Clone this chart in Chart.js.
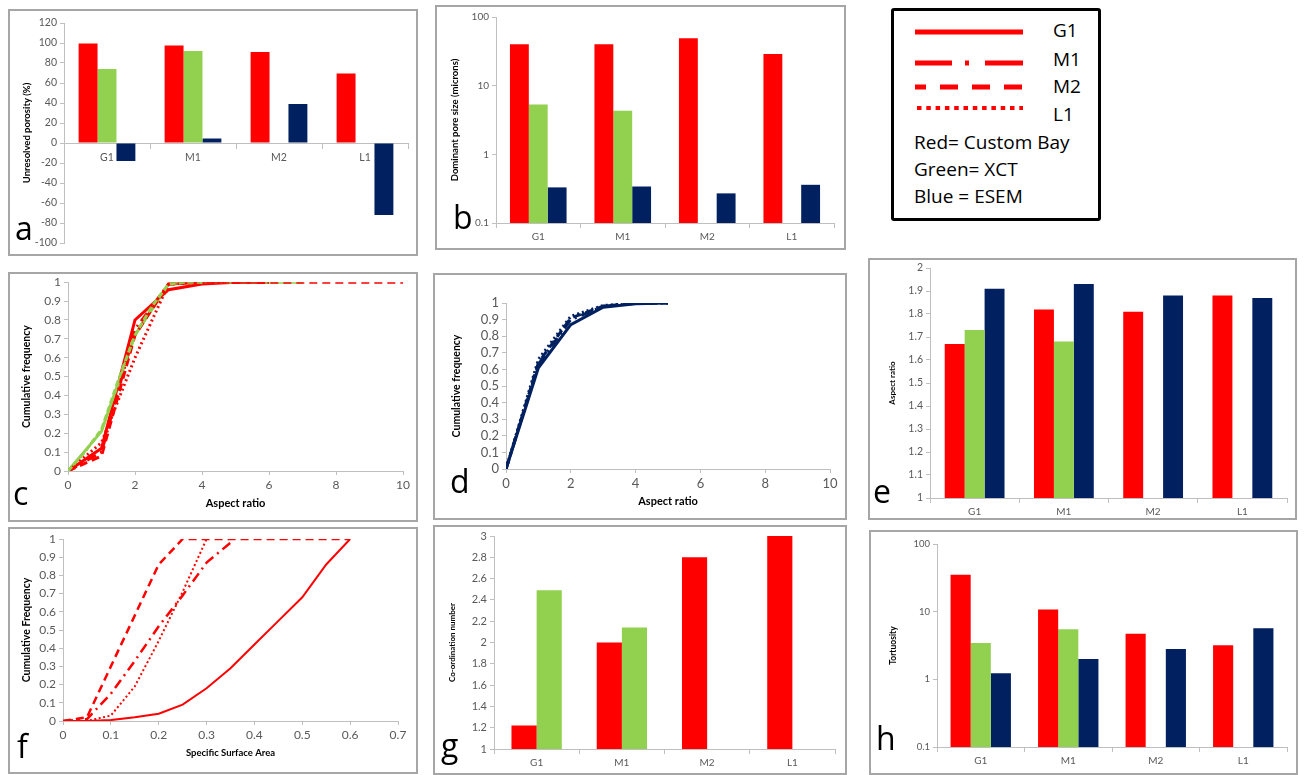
<!DOCTYPE html>
<html>
<head>
<meta charset="utf-8">
<script src="https://cdn.jsdelivr.net/npm/chart.js@4.4.1/dist/chart.umd.min.js"></script>
<style>
  body { margin: 0; width: 1306px; height: 775px; background: #fff; position: relative; overflow: hidden; }
  canvas { position: absolute; }
  .box { position: absolute; border: 2px solid #a6a6a6; box-sizing: border-box; pointer-events: none; }
  .letter { position: absolute; font-family: "Open Sans", sans-serif; font-size: 32px; line-height: 32px; color: #000; }
  .legend { position: absolute; left: 891px; top: 8px; width: 210px; height: 213px; border: 3px solid #000; border-radius: 3px; box-sizing: border-box; }
  .lt { position: absolute; font-family: "Open Sans", sans-serif; font-size: 19px; line-height: 19px; color: #000; white-space: nowrap; }
</style>
</head>
<body>
<canvas id="chart-a"></canvas>
<canvas id="chart-b"></canvas>
<canvas id="chart-c"></canvas>
<canvas id="chart-d"></canvas>
<canvas id="chart-e"></canvas>
<canvas id="chart-f"></canvas>
<canvas id="chart-g"></canvas>
<canvas id="chart-h"></canvas>

<div class="box" style="left:8px;top:9px;width:410px;height:247px"></div>
<div class="box" style="left:435px;top:5px;width:411px;height:245px"></div>
<div class="box" style="left:8px;top:272px;width:410px;height:250px"></div>
<div class="box" style="left:433px;top:273px;width:414px;height:247px"></div>
<div class="box" style="left:868px;top:258px;width:429px;height:262px"></div>
<div class="box" style="left:8px;top:527px;width:410px;height:247px"></div>
<div class="box" style="left:433px;top:525px;width:414px;height:250px"></div>
<div class="box" style="left:869px;top:530px;width:429px;height:245px"></div>

<div class="letter" style="left:15px;top:212px">a</div>
<div class="letter" style="left:453px;top:201px">b</div>
<div class="letter" style="left:13px;top:477px">c</div>
<div class="letter" style="left:450px;top:465px">d</div>
<div class="letter" style="left:873px;top:475px">e</div>
<div class="letter" style="left:17px;top:730px">f</div>
<div class="letter" style="left:441px;top:729px">g</div>
<div class="letter" style="left:876px;top:722px">h</div>

<div class="legend"></div>
<svg style="position:absolute;left:891px;top:8px" width="210" height="213">
  <line x1="24" y1="24" x2="132" y2="24" stroke="#ff0000" stroke-width="5"/>
  <line x1="24" y1="55" x2="132" y2="55" stroke="#ff0000" stroke-width="5" stroke-dasharray="37 13 4 16 38"/>
  <line x1="24" y1="79" x2="132" y2="79" stroke="#ff0000" stroke-width="5" stroke-dasharray="18 14" stroke-dashoffset="7"/>
  <line x1="26" y1="100" x2="132" y2="100" stroke="#ff0000" stroke-width="4" stroke-dasharray="4.5 4.8"/>
</svg>
<div class="lt" style="left:1053px;top:21px">G1</div>
<div class="lt" style="left:1053px;top:50px">M1</div>
<div class="lt" style="left:1053px;top:77px">M2</div>
<div class="lt" style="left:1053px;top:105px">L1</div>
<div class="lt" style="left:914px;top:133px">Red= Custom Bay</div>
<div class="lt" style="left:914px;top:160px">Green= XCT</div>
<div class="lt" style="left:914px;top:187px">Blue = ESEM</div>

<script>
// samples on every bar chart
const categories = ["G1", "M1", "M2", "L1"];

// a: unresolved porosity (%)
const porosityCustomBay = [99.5, 97.5, 91, 69.5];
const porosityXct = [74, 92, null, null];
const porosityEsem = [-18, 4.5, 39, -72];

// b: dominant pore size (microns), log axis
const poreCustomBay = [40, 40, 49, 29];
const poreXct = [5.3, 4.3, null, null];
const poreEsem = [0.33, 0.34, 0.27, 0.36];
const logTicks = [0.1, 1, 10, 100];

// c: cumulative frequency vs aspect ratio (custom bay + XCT)
const cAspect = [0, 1, 2, 3, 4, 5, 6, 7, 8, 9, 10];
const cG1 = [0, 0.12, 0.8, 0.96, 0.99, 1, 1];
const cM1 = [0, 0.1, 0.75, 0.99, 1, 1, 1];
const cM2 = [0, 0.08, 0.72, 0.99, 1, 1, 1, 1, 1, 1, 1];
const cL1 = [0, 0.15, 0.6, 0.99, 1, 1, 1];
const cXctG1 = [0, 0.21, 0.72, 0.99, 1, 1, 1, 1];
const cAspectHalf = [0, 0.5, 1, 1.5, 2, 2.5, 3, 3.5, 4];
const cXctM1 = [0, 0.1, 0.22, 0.48, 0.72, 0.87, 0.99, 1, 1];

// d: cumulative frequency vs aspect ratio (ESEM)
const dAspect = [0, 1, 2, 3, 4, 5];
const dG1 = [0, 0.61, 0.87, 0.975, 0.995, 1];
const dM1 = [0, 0.63, 0.9, 0.98, 0.998, 1];
const dM2 = [0, 0.64, 0.91, 0.98, 1, 1];
const dL1 = [0, 0.66, 0.92, 0.985, 1, 1];

// e: aspect ratio
const aspectCustomBay = [1.67, 1.82, 1.81, 1.88];
const aspectXct = [1.73, 1.68, null, null];
const aspectEsem = [1.91, 1.93, 1.88, 1.87];

// f: cumulative frequency vs specific surface area
const fSsa = [0, 0.05, 0.1, 0.15, 0.2, 0.25, 0.3, 0.35, 0.4, 0.45, 0.5, 0.55, 0.6];
const fG1 = [0, 0, 0.005, 0.02, 0.04, 0.09, 0.18, 0.29, 0.42, 0.55, 0.68, 0.86, 1];
const fM1 = [0, 0.01, 0.15, 0.33, 0.52, 0.69, 0.87, 0.98];
const fM2 = [0, 0.02, 0.3, 0.58, 0.86, 1, 1, 1, 1, 1, 1, 1, 1];
const fL1 = [0, 0, 0.03, 0.19, 0.44, 0.71, 1];

// g: co-ordination number
const coordCustomBay = [1.22, 2.0, 2.8, 3.0];
const coordXct = [2.49, 2.14, null, null];

// h: tortuosity, log axis
const tortCustomBay = [35, 10.8, 4.7, 3.2];
const tortXct = [3.45, 5.5, null, null];
const tortEsem = [1.23, 2.0, 2.8, 5.7];

const RED = "#ff0000";
const GREEN = "#92d050";
const BLUE = "#002060";
const AXIS = "#bfbfbf";
const TICK = "#595959";

const SOLID = [];
const DASH_DOT = [10, 5, 2, 5];
const DASHED = [8, 5];
const DOTTED = [2, 3];

Chart.defaults.font.family = "Lato, 'Open Sans', sans-serif";

const pts = (xs, ys) => ys.map((y, i) => ({ x: xs[i], y: y }));

// box = [left, top, width, height] of the framed panel, plot = [left, top, right, bottom]
function geometry(g) {
  const [bl, bt, bw, bh] = g.box;
  const [L, T, R, B] = g.plot;
  const padLeft = g.yTitleX - bl - (g.yTitleSize * 1.2) / 2;
  let padBottom = 0;
  if (g.xTitleY) padBottom = bt + bh - g.xTitleY - (g.xTitleSize * 1.2) / 2;
  if (g.xAtZero) padBottom = bt + bh - B;
  return {
    padding: { left: padLeft, top: T - bt, right: bl + bw - R, bottom: padBottom },
    yWidth: L - bl - padLeft,
    xHeight: bt + bh - B - padBottom,
  };
}

function axis(tickSize, extra) {
  return Object.assign({
    grid: { drawOnChartArea: false, color: AXIS, tickLength: 4 },
    border: { color: AXIS },
    ticks: { color: TICK, padding: 3, autoSkip: false, maxRotation: 0, font: { size: tickSize } },
  }, extra);
}

function title(text, size) {
  return { display: true, text: text, color: "#000", padding: 0, font: { size: size, weight: "bold" } };
}

function build(id, g, type, labels, datasets, xOpts, yOpts) {
  const geo = geometry(g);
  const cv = document.getElementById(id);
  cv.width = g.box[2];
  cv.height = g.box[3];
  cv.style.left = g.box[0] + "px";
  cv.style.top = g.box[1] + "px";
  xOpts.afterFit = (s) => { s.height = geo.xHeight; };
  yOpts.afterFit = (s) => { s.width = geo.yWidth; };
  return new Chart(cv, {
    type: type,
    data: { labels: labels, datasets: datasets },
    options: {
      responsive: false,
      animation: false,
      devicePixelRatio: 1,
      layout: { padding: geo.padding },
      plugins: { legend: { display: false }, tooltip: { enabled: false } },
      scales: { x: xOpts, y: yOpts },
    },
  });
}

function bars(data, color, pct) {
  return { data: data, backgroundColor: color, borderWidth: 0, barPercentage: 1, categoryPercentage: pct };
}

function line(xs, ys, color, dash, width) {
  return {
    data: pts(xs, ys), borderColor: color, borderDash: dash, borderWidth: width,
    pointRadius: 0, tension: 0, fill: false, borderCapStyle: "butt",
  };
}

const logY = (size, text, titleSize) => axis(size, {
  type: "logarithmic", min: 0.1, max: 100,
  afterBuildTicks: (s) => { s.ticks = logTicks.map((v) => ({ value: v })); },
  ticks: { color: TICK, padding: 3, autoSkip: false, font: { size: size }, callback: (v) => String(v) },
  title: title(text, titleSize),
});

const catX = (size) => axis(size, { grid: { drawOnChartArea: false, color: AXIS, tickLength: 5, offset: true } });
const fmt = (v) => String(+v.toFixed(2));

// a
build("chart-a",
  { box: [8, 9, 410, 247], plot: [64, 23, 408, 243], yTitleX: 27, yTitleSize: 9.5, xAtZero: true },
  "bar", categories,
  [bars(porosityCustomBay, RED, 0.66), bars(porosityXct, GREEN, 0.66), bars(porosityEsem, BLUE, 0.66)],
  Object.assign(catX(10.5), { position: { y: 0 } }),
  axis(10.5, { min: -100, max: 120, ticks: { color: TICK, padding: 3, autoSkip: false, stepSize: 20, font: { size: 10.5 } },
    title: title("Unresolved porosity (%)", 9.5) }));

// b
build("chart-b",
  { box: [435, 5, 411, 245], plot: [496, 17, 834, 223], yTitleX: 455, yTitleSize: 9.5 },
  "bar", categories,
  [bars(poreCustomBay, RED, 0.67), bars(poreXct, GREEN, 0.67), bars(poreEsem, BLUE, 0.67)],
  catX(10),
  logY(10, "Dominant pore size (microns)", 9.5));

// c
build("chart-c",
  { box: [8, 272, 410, 250], plot: [68, 281, 403, 471], yTitleX: 27, yTitleSize: 10.5, xTitleY: 503, xTitleSize: 11 },
  "line", undefined,
  [
    line(cAspectHalf, cXctM1, GREEN, [6, 3], 3),
    line(cAspect, cM2, RED, DASHED, 3),
    line(cAspect, cL1, RED, DOTTED, 3),
    line(cAspect, cM1, RED, DASH_DOT, 3),
    line(cAspect, cXctG1, GREEN, SOLID, 3),
    line(cAspect, cG1, RED, SOLID, 3),
  ],
  axis(12, { type: "linear", min: 0, max: 10, ticks: { color: TICK, padding: 3, autoSkip: false, stepSize: 2, font: { size: 12 } },
    title: title("Aspect ratio", 11) }),
  axis(12, { min: 0, max: 1, ticks: { color: TICK, padding: 3, autoSkip: false, stepSize: 0.1, font: { size: 12 }, callback: fmt },
    title: title("Cumulative frequency", 10.5) }));

// d
build("chart-d",
  { box: [433, 273, 414, 247], plot: [506, 303, 830, 469], yTitleX: 457, yTitleSize: 10.5, xTitleY: 501, xTitleSize: 11 },
  "line", undefined,
  [
    line(dAspect, dL1, BLUE, DOTTED, 3),
    line(dAspect, dM2, BLUE, DASHED, 3),
    line(dAspect, dM1, BLUE, DASH_DOT, 3),
    line(dAspect, dG1, BLUE, SOLID, 3),
  ],
  axis(13, { type: "linear", min: 0, max: 10, ticks: { color: TICK, padding: 3, autoSkip: false, stepSize: 2, font: { size: 13 } },
    title: title("Aspect ratio", 11) }),
  axis(13, { min: 0, max: 1, ticks: { color: TICK, padding: 3, autoSkip: false, stepSize: 0.1, font: { size: 13 }, callback: fmt },
    title: title("Cumulative frequency", 10.5) }));

// e
build("chart-e",
  { box: [868, 258, 429, 262], plot: [930, 268, 1287, 498], yTitleX: 892, yTitleSize: 8 },
  "bar", categories,
  [bars(aspectCustomBay, RED, 0.67), bars(aspectXct, GREEN, 0.67), bars(aspectEsem, BLUE, 0.67)],
  catX(10),
  axis(10.5, { min: 1, max: 2, ticks: { color: TICK, padding: 3, autoSkip: false, stepSize: 0.1, font: { size: 10.5 }, callback: fmt },
    title: title("Aspect ratio", 8) }));

// f
build("chart-f",
  { box: [8, 527, 410, 247], plot: [63, 539, 398, 721], yTitleX: 27, yTitleSize: 10.5, xTitleY: 753, xTitleSize: 9.5 },
  "line", undefined,
  [
    line(fSsa, fL1, RED, [2, 2.5], 2),
    line(fSsa, fM1, RED, DASH_DOT, 2.5),
    line(fSsa, fM2, RED, DASHED, 2.5),
    line(fSsa, fG1, RED, SOLID, 2),
  ],
  axis(12, { type: "linear", min: 0, max: 0.7, ticks: { color: TICK, padding: 3, autoSkip: false, stepSize: 0.1, font: { size: 12 }, callback: fmt },
    title: title("Specific Surface Area", 9.5) }),
  axis(12, { min: 0, max: 1, ticks: { color: TICK, padding: 3, autoSkip: false, stepSize: 0.1, font: { size: 12 }, callback: fmt },
    title: title("Cumulative Frequency", 10.5) }));

// g
build("chart-g",
  { box: [433, 525, 414, 250], plot: [494, 536, 835, 749], yTitleX: 452, yTitleSize: 8 },
  "bar", categories,
  [bars(coordCustomBay, RED, 0.59), bars(coordXct, GREEN, 0.59)],
  catX(10),
  axis(11, { min: 1, max: 3, ticks: { color: TICK, padding: 3, autoSkip: false, stepSize: 0.2, font: { size: 11 }, callback: fmt },
    title: title("Co-ordination number", 8) }));

// h
build("chart-h",
  { box: [869, 530, 429, 245], plot: [937, 544, 1287, 747], yTitleX: 893, yTitleSize: 8.5 },
  "bar", categories,
  [bars(tortCustomBay, RED, 0.69), bars(tortXct, GREEN, 0.69), bars(tortEsem, BLUE, 0.69)],
  catX(10),
  logY(9.5, "Tortuosity", 8.5));
</script>
</body>
</html>
